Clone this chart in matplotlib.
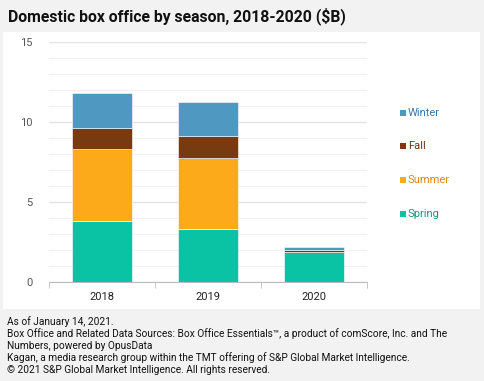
import numpy as np
import matplotlib
matplotlib.use('Agg')
import matplotlib.pyplot as plt
from matplotlib.patches import Rectangle

years = ['2018', '2019', '2020']
spring = [3.8, 3.3, 1.85]
summer = [4.5, 4.48, 0.03]
fall = [1.35, 1.37, 0.14]
winter = [2.15, 2.08, 0.17]

seasons = ['Spring', 'Summer', 'Fall', 'Winter']
colors = ['#0ac2a4', '#fcaa1a', '#783a10', '#4f98c2']
text_colors = ['#17927a', '#d98a0c', '#6a3410', '#3f77a3']

plt.rcParams['font.family'] = ['Roboto', 'DejaVu Sans']

W, H = 484, 381
fig = plt.figure(figsize=(W / 100, H / 100), dpi=100)
fig.patch.set_facecolor('#f2f2f2')
# white chart panel, behind everything
fig.add_artist(Rectangle((3 / W, 1 - 309 / H), 477 / W, 277 / H,
                         transform=fig.transFigure, facecolor='white',
                         edgecolor='none', zorder=-5))

ax = fig.add_axes([49 / W, 1 - 282 / H, 318 / W, 240 / H])
ax.set_zorder(2)
ax.set_facecolor('none')
x = np.arange(len(years))
bottom = np.zeros(len(years))
for name, vals, c in zip(seasons, [spring, summer, fall, winter], colors):
    ax.bar(x, vals, bottom=bottom, width=0.57, color=c, edgecolor='white',
           linewidth=0.4, label=name, zorder=3)
    bottom += np.array(vals)

ax.set_xlim(-0.5, 2.5)
ax.set_ylim(0, 15)
ax.set_yticks([0, 5, 10, 15])
ax.set_yticks(np.arange(0, 16, 1), minor=True)
ax.grid(axis='y', which='major', color='#e3e3e3', linewidth=1, zorder=0)
ax.grid(axis='y', which='minor', color='#f0f0f0', linewidth=0.8, zorder=0)
ax.set_axisbelow(True)
ax.set_xticks(x)
ax.set_xticklabels(years)
ax.set_xticks([-0.5, 0.5, 1.5, 2.5], minor=True)
ax.tick_params(axis='x', which='major', length=0, pad=7, labelsize=8, colors='#222222')
ax.tick_params(axis='x', which='minor', length=4, color='#bbbbbb')
ax.tick_params(axis='y', which='both', length=0, pad=12, labelsize=8, labelcolor='#555555')
for s in ['top', 'right', 'left']:
    ax.spines[s].set_visible(False)
ax.spines['bottom'].set_color('#bbbbbb')

# legend entries, top to bottom: Winter, Fall, Summer, Spring
leg_y = [113, 146, 180, 214]
for i, name in enumerate(reversed(seasons)):
    k = seasons.index(name)
    yy = 1 - leg_y[i] / H
    fig.add_artist(Rectangle((400 / W, yy - 3 / H), 6 / W, 6 / H,
                             transform=fig.transFigure, facecolor=colors[k],
                             edgecolor='none'))
    fig.text(408 / W, yy, name, color=text_colors[k], fontsize=8, va='center')

fig.text(8 / W, 1 - 16 / H, 'Domestic box office by season, 2018-2020 ($B)',
         fontsize=11.3, fontweight='bold', color='#111111', va='center')

footer = ('As of January 14, 2021.\n'
          'Box Office and Related Data Sources: Box Office Essentials\u2122, a product of comScore, Inc. and The\n'
          'Numbers, powered by OpusData\n'
          'Kagan, a media research group within the TMT offering of S&P Global Market Intelligence.\n'
          '\u00a9 2021 S&P Global Market Intelligence. All rights reserved.')
fig.text(7 / W, 1 - 316 / H, footer, fontsize=7.3, color='#111111', va='top',
         linespacing=1.18)

fig.savefig('out.png', dpi=100, facecolor=fig.get_facecolor())
